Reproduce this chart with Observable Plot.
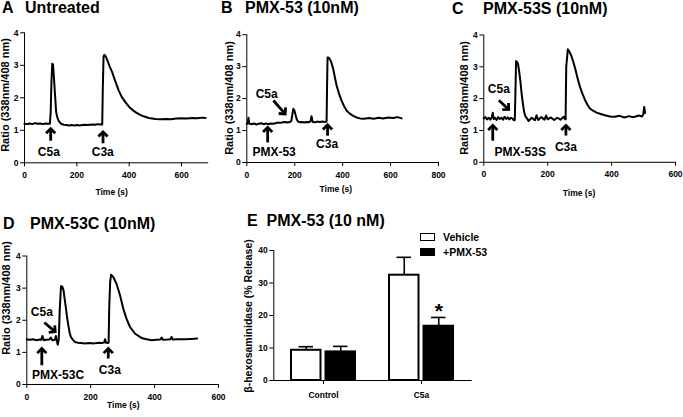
<!DOCTYPE html>
<html>
<head>
<meta charset="utf-8">
<script src="https://cdn.jsdelivr.net/npm/d3@7"></script>
<script src="https://cdn.jsdelivr.net/npm/@observablehq/plot@0.6"></script>
<style>
  body { margin: 0; background: #fff; }
  #fig { position: relative; width: 683px; height: 417px; overflow: hidden; background: #fff;
         font-family: 'Liberation Sans', Arial, sans-serif; font-weight: bold; color: #000; }
  .abs { position: absolute; white-space: nowrap; line-height: 1; }
  .ttl { font-size: 16px; transform: translateY(-50%); }
  .xl { font-size: 8.5px; transform: translate(-50%, -50%); }
  .yl { font-size: 11px; transform: translate(-50%, -50%) rotate(-90deg); }
  .lg { font-size: 10.5px; transform: translateY(-50%); }
  .sw { position: absolute; width: 15px; height: 8px; box-sizing: border-box; border: 1.5px solid #000; }
  svg { overflow: visible; }
</style>
</head>
<body>
<div id="fig"></div>
<script>
// ---------- Data: calcium traces (time in s, ratio 338/408) ----------
const tA = [0,10,20,30,40,50,60,70,80,90,97,100,103,106,109,113,116,121,126,131,140,150,160,170,180,190,200,210,220,230,240,250,260,270,280,290,297,299,302,305,310,318,326,335,345,360,372,386,400,412,424,440,455,475,500,520,540,560,580,600,620,640,660,680,692];
const vA = [1.20,1.19,1.21,1.19,1.22,1.20,1.21,1.19,1.21,1.20,1.20,1.55,2.5,3.05,3.02,2.55,2.17,1.56,1.38,1.28,1.20,1.17,1.16,1.15,1.16,1.15,1.16,1.15,1.16,1.17,1.16,1.17,1.18,1.17,1.19,1.18,1.18,2.2,3.25,3.32,3.28,3.12,2.95,2.79,2.55,2.22,2.02,1.86,1.72,1.63,1.56,1.48,1.43,1.38,1.35,1.34,1.35,1.34,1.36,1.37,1.36,1.38,1.37,1.39,1.38];

const tB = [0,4,7,10,20,30,40,50,60,70,80,90,100,110,120,130,140,150,160,170,180,186,190,194,198,203,208,213,220,230,240,250,260,266,270,275,285,295,305,315,325,333,335,337,342,347,352,361,368,375,385,396,406,417,430,444,458,472,490,510,530,550,570,590,610,630,646];
const vB = [1.21,1.22,1.40,1.22,1.20,1.22,1.19,1.21,1.23,1.20,1.22,1.20,1.22,1.21,1.23,1.25,1.24,1.26,1.27,1.25,1.27,1.30,1.50,1.68,1.64,1.50,1.36,1.29,1.26,1.27,1.25,1.27,1.26,1.30,1.45,1.27,1.26,1.28,1.27,1.28,1.27,1.28,2.4,3.29,3.28,3.23,3.15,2.92,2.65,2.40,2.15,1.93,1.76,1.62,1.53,1.46,1.41,1.38,1.37,1.39,1.37,1.40,1.38,1.41,1.39,1.42,1.38];

const tC = [0,5,10,15,20,25,28,31,35,40,45,50,55,60,65,70,75,80,85,90,94,97,99,101,104,107,110,114,118,122,126,130,135,140,150,160,165,170,180,190,195,200,210,220,230,240,250,254,256,258,263,268,274,280,286,291,296,301,309,317,325,332,342,353,366,379,395,410,425,440,455,465,473,485,495,499,502,505];
const vC = [1.38,1.42,1.35,1.40,1.34,1.41,1.56,1.36,1.40,1.33,1.42,1.36,1.40,1.34,1.43,1.36,1.41,1.35,1.40,1.37,1.32,1.33,2.2,3.18,3.15,3.10,2.9,2.6,2.2,1.87,1.6,1.45,1.38,1.30,1.40,1.32,1.48,1.33,1.42,1.34,1.47,1.35,1.41,1.33,1.40,1.34,1.43,1.36,1.35,3.0,3.55,3.47,3.35,3.16,2.95,2.74,2.55,2.37,2.15,1.95,1.80,1.69,1.62,1.56,1.52,1.48,1.44,1.43,1.46,1.41,1.45,1.42,1.43,1.47,1.44,1.50,1.74,1.55];

const tD = [0,10,20,30,40,45,49,53,60,70,75,80,88,91,94,97,100,103,107,111,115,118,122,126,130,134,138,145,151,160,170,182,195,210,225,234,242,245,248,253,256,258,261,264,271,281,292,302,312,323,339,359,375,391,405,418,422,426,440,450,453,457,470,495,515,533];
const vD = [1.40,1.39,1.41,1.38,1.40,1.39,1.51,1.38,1.39,1.40,1.46,1.38,1.39,1.51,1.35,1.24,1.40,2.3,3.06,3.05,2.93,2.7,2.41,2.1,1.84,1.62,1.48,1.38,1.32,1.30,1.29,1.28,1.29,1.28,1.30,1.29,1.31,1.41,1.30,1.29,1.30,2.4,3.2,3.42,3.34,3.13,2.77,2.36,2.05,1.79,1.58,1.45,1.41,1.38,1.39,1.40,1.46,1.39,1.40,1.41,1.48,1.40,1.41,1.41,1.42,1.43];

// ---------- Annotations (data units) ----------
const arrowsA = [{x1:100,y1:0.68,x2:100,y2:1.05},{x1:300,y1:0.60,x2:300,y2:0.95}];
const labelsA = [{x:93,y:0.33,text:"C5a"},{x:299,y:0.33,text:"C3a"}];
const arrowsB = [{x1:87,y1:0.63,x2:87,y2:1.10},{x1:111,y1:1.94,x2:160,y2:1.52},{x1:337,y1:0.84,x2:337,y2:1.18}];
const labelsB = [{x:114,y:0.31,text:"PMX-53"},{x:83,y:2.13,text:"C5a"},{x:335,y:0.58,text:"C3a"}];
const arrowsC = [{x1:28,y1:0.68,x2:28,y2:1.16},{x1:47,y1:1.95,x2:78,y2:1.66},{x1:257,y1:0.84,x2:257,y2:1.16}];
const labelsC = [{x:114,y:0.32,text:"PMX-53S"},{x:47,y:2.3,text:"C5a"},{x:257,y:0.49,text:"C3a"}];
const arrowsD = [{x1:47,y1:0.60,x2:47,y2:1.12},{x1:55,y1:1.93,x2:89,y2:1.64},{x1:255,y1:0.81,x2:255,y2:1.12}];
const labelsD = [{x:98,y:0.29,text:"PMX-53C"},{x:47,y:2.25,text:"C5a"},{x:260,y:0.46,text:"C3a"}];

// ---------- Data: beta-hexosaminidase release ----------
const groups = ["Control", "C5a"];
const vehicleMean = [9.3, 32.4];
const vehicleSem = [1.1, 5.5];
const pmxMean = [8.8, 16.7];
const pmxSem = [1.7, 2.7];
const starLabels = [{g: "C5a", y: 21.2, text: "*"}];

const FONT = "'Liberation Sans', Arial, sans-serif";
const fig = document.getElementById("fig");
const fmt = d => String(d);

// chevron arrowhead symbol, tip at the origin, pointing up
const chevron = {
  draw(context, size) {
    const r = Math.sqrt(size / Math.PI);
    context.moveTo(-r, r * 1.0);
    context.lineTo(0, 0);
    context.lineTo(r, r * 1.0);
  }
};

function place(node, left, top) {
  const d = document.createElement("div");
  d.style.position = "absolute";
  d.style.left = left + "px";
  d.style.top = top + "px";
  d.appendChild(node);
  fig.appendChild(d);
}
function html(cls, text, left, top) {
  const d = document.createElement("div");
  d.className = "abs " + cls;
  d.textContent = text;
  d.style.left = left + "px";
  d.style.top = top + "px";
  fig.appendChild(d);
}

function linePanel(o) {
  const data = o.t.map((t, i) => ({t, v: o.v[i]}));
  const kx = (o.x1 - o.x0) / o.xmax, ky = (o.y0 - o.y4) / 4;
  const arrows = o.arrows.map(a => ({...a, rot: Math.atan2((a.x2 - a.x1) * kx, (a.y2 - a.y1) * ky) * 180 / Math.PI}));
  const chart = Plot.plot({
    width: o.width, height: o.height,
    marginLeft: o.x0 - o.left, marginRight: o.left + o.width - o.x1,
    marginTop: o.y4 - o.top, marginBottom: o.top + o.height - o.y0,
    x: {domain: [0, o.xmax], ticks: o.xticks, tickFormat: fmt, tickSize: 4, tickPadding: 5, line: true, label: null},
    y: {domain: [0, 4], ticks: [0, 1, 2, 3, 4], tickFormat: fmt, tickSize: 4, tickPadding: 2, line: true, label: null},
    style: {fontFamily: FONT, fontWeight: "bold", fontSize: "8.5px", color: "#000", background: "transparent", overflow: "visible"},
    marks: [
      Plot.line(data, {x: "t", y: "v", stroke: "#000", strokeWidth: 2}),
      Plot.link(arrows, {x1: "x1", y1: "y1", x2: "x2", y2: "y2", stroke: "#000", strokeWidth: 2.8}),
      Plot.dot(arrows, {x: "x2", y: "y2", symbol: chevron, r: 4.6, rotate: "rot", fill: "none", stroke: "#000", strokeWidth: 2.8, strokeLinejoin: "miter"}),
      Plot.text(o.labels, {x: "x", y: "y", text: "text", fontSize: 12, fontWeight: "bold", fill: "#000"})
    ]
  });
  place(chart, o.left, o.top);
}

linePanel({t: tA, v: vA, xmax: 700, xticks: [0,200,400,600], left: 0, top: 20, width: 215, height: 170,
  x0: 24, x1: 207.2, y4: 32.3, y0: 162.3, arrows: arrowsA, labels: labelsA});
linePanel({t: tB, v: vB, xmax: 800, xticks: [0,200,400,600,800], left: 228, top: 20, width: 215, height: 170,
  x0: 246.3, x1: 438, y4: 34.2, y0: 162, arrows: arrowsB, labels: labelsB});
linePanel({t: tC, v: vC, xmax: 600, xticks: [0,200,400,600], left: 465, top: 20, width: 218, height: 170,
  x0: 483.3, x1: 675, y4: 34.5, y0: 161.8, arrows: arrowsC, labels: labelsC});
linePanel({t: tD, v: vD, xmax: 600, xticks: [0,200,400,600], left: 0, top: 240, width: 225, height: 170,
  x0: 26.3, x1: 218, y4: 255.5, y0: 384, arrows: arrowsD, labels: labelsD});

// ---------- Panel E ----------
const veh = groups.map((g, i) => ({g, v: vehicleMean[i], hi: vehicleMean[i] + vehicleSem[i]}));
const pmx = groups.map((g, i) => ({g, v: pmxMean[i], hi: pmxMean[i] + pmxSem[i]}));
const E = {left: 255, top: 235, width: 225, height: 165, x0: 273.3, x1: 470.7, y40: 250, y0: 380};
const chartE = Plot.plot({
  width: E.width, height: E.height,
  marginLeft: E.x0 - E.left, marginRight: E.left + E.width - E.x1,
  marginTop: E.y40 - E.top, marginBottom: E.top + E.height - E.y0,
  x: {type: "band", domain: groups, paddingInner: 0.345, paddingOuter: 0.1726, tickSize: 4, tickPadding: 7, line: true, label: null, fontSize: 10.5},
  y: {domain: [0, 40], ticks: [0, 10, 20, 30, 40], tickFormat: fmt, tickSize: 4, tickPadding: 2, line: true, label: null},
  style: {fontFamily: FONT, fontWeight: "bold", fontSize: "8.5px", color: "#000", background: "transparent", overflow: "visible"},
  marks: [
    Plot.ruleX(veh, {x: "g", y1: "v", y2: "hi", dx: -17.25, stroke: "#000", strokeWidth: 1.6}),
    Plot.tickY(veh, {x: "g", y: "hi", insetLeft: 7.5, insetRight: 42, stroke: "#000", strokeWidth: 1.6}),
    Plot.ruleX(pmx, {x: "g", y1: "v", y2: "hi", dx: 17.25, stroke: "#000", strokeWidth: 1.6}),
    Plot.tickY(pmx, {x: "g", y: "hi", insetLeft: 42, insetRight: 7.5, stroke: "#000", strokeWidth: 1.6}),
    Plot.barY(veh, {x: "g", y: "v", fill: "#fff", stroke: "#000", strokeWidth: 2, insetRight: 34.5}),
    Plot.barY(pmx, {x: "g", y: "v", fill: "#000", stroke: "#000", strokeWidth: 2, insetLeft: 34.5}),
    Plot.text(starLabels, {x: "g", y: "y", text: "text", dx: 17.25, fontSize: 21, fontWeight: "bold", fill: "#000"})
  ]
});
place(chartE, E.left, E.top);

// ---------- Titles ----------
html("ttl", "A", 2, 7.5);   html("ttl", "Untreated", 25, 7.5);
html("ttl", "B", 221, 7.5); html("ttl", "PMX-53 (10nM)", 245, 7.5);
html("ttl", "C", 452, 9);   html("ttl", "PMX-53S (10nM)", 483, 9);
html("ttl", "D", 3, 223.5); html("ttl", "PMX-53C (10nM)", 30, 223.5);
html("ttl", "E", 247, 220.5); html("ttl", "PMX-53 (10 nM)", 266.5, 220.5);

// ---------- Axis titles ----------
html("xl", "Time (s)", 111.7, 191.7);
html("xl", "Time (s)", 335.8, 189.3);
html("xl", "Time (s)", 579, 193.3);
html("xl", "Time (s)", 123.3, 405);
html("yl", "Ratio (338nm/408 nm)", 5, 95);
html("yl", "Ratio (338nm/408 nm)", 229, 98);
html("yl", "Ratio (338nm/408 nm)", 464, 98);
html("yl", "Ratio (338nm/408 nm)", 6, 298);
const eyl = document.createElement("div");
eyl.className = "abs yl";
eyl.style.fontSize = "10.5px";
eyl.textContent = "\u03B2-hexosaminidase (%  Release)";
eyl.style.left = "248px"; eyl.style.top = "316px";
fig.appendChild(eyl);

// ---------- Legend (panel E) ----------
const sw1 = document.createElement("div"); sw1.className = "sw";
sw1.style.left = "420px"; sw1.style.top = "232.5px"; sw1.style.background = "#fff"; fig.appendChild(sw1);
const sw2 = document.createElement("div"); sw2.className = "sw";
sw2.style.left = "420px"; sw2.style.top = "247.5px"; sw2.style.background = "#000"; fig.appendChild(sw2);
html("lg", "Vehicle", 443, 236.5);
html("lg", "+PMX-53", 443, 251.7);
</script>
</body>
</html>
